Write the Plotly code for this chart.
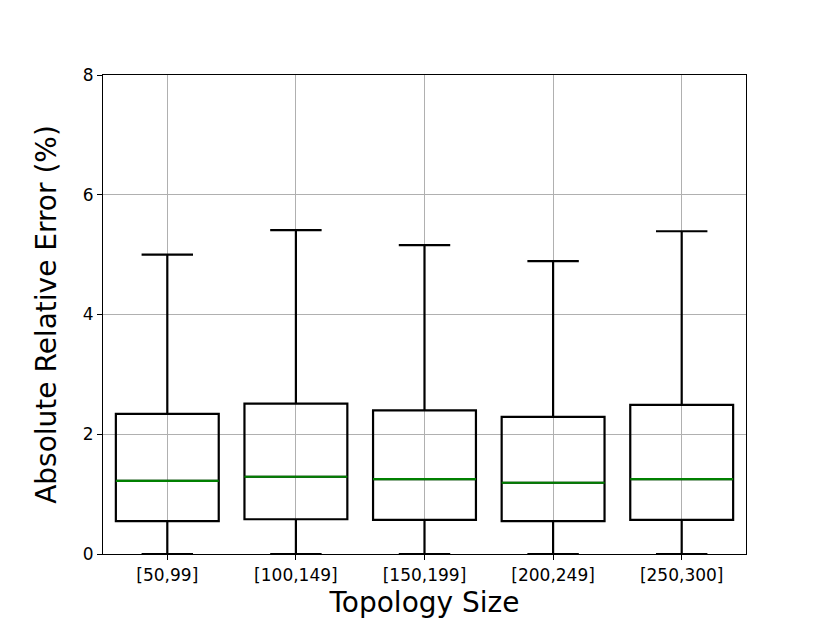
import plotly.graph_objects as go

# Box statistics (percent)
sizes = ["[50,99]", "[100,149]", "[150,199]", "[200,249]", "[250,300]"]
positions = [1, 2, 3, 4, 5]
lower = [0.0, 0.0, 0.0, 0.0, 0.0]
q1 = [0.55, 0.58, 0.57, 0.55, 0.57]
median = [1.22, 1.29, 1.25, 1.19, 1.25]
q3 = [2.34, 2.51, 2.40, 2.29, 2.49]
upper = [5.00, 5.41, 5.16, 4.89, 5.39]

box_width = 0.8
font = "DejaVu Sans"

fig = go.Figure()

fig.add_trace(go.Box(
    x=positions,
    q1=q1,
    median=median,
    q3=q3,
    lowerfence=lower,
    upperfence=upper,
    width=box_width,
    whiskerwidth=0.5,
    fillcolor="rgba(0,0,0,0)",
    line=dict(color="black", width=2.2),
    boxpoints=False,
    hoverinfo="skip",
    showlegend=False,
))

# green median lines drawn over the box medians
med_x, med_y = [], []
for p, m in zip(positions, median):
    med_x += [p - box_width / 2, p + box_width / 2, None]
    med_y += [m, m, None]
fig.add_trace(go.Scatter(
    x=med_x, y=med_y, mode="lines",
    line=dict(color="green", width=2.2),
    hoverinfo="skip", showlegend=False,
))

# page has an 8px body margin, so the figure is a little smaller than the window
fig.update_layout(
    width=822,
    height=615,
    margin=dict(l=95, r=84, t=67, b=69),
    plot_bgcolor="white",
    paper_bgcolor="white",
    font=dict(family=font, size=17, color="black"),
)

fig.update_xaxes(
    range=[0.5, 5.5],
    tickvals=positions,
    ticktext=sizes,
    showgrid=True, gridcolor="#b0b0b0", gridwidth=1,
    showline=True, linecolor="black", linewidth=1.2, mirror=True,
    ticks="outside", ticklen=5, tickcolor="black",
    zeroline=False,
    title=dict(text="Topology Size", font=dict(family=font, size=28), standoff=8),
)
fig.update_yaxes(
    range=[0, 8],
    tickvals=[0, 2, 4, 6, 8],
    showgrid=True, gridcolor="#b0b0b0", gridwidth=1,
    showline=True, linecolor="black", linewidth=1.2, mirror=True,
    ticks="outside", ticklen=5, tickcolor="black",
    zeroline=False,
    title=dict(text="Absolute Relative Error (%)", font=dict(family=font, size=28), standoff=17),
)

fig.write_html("out.html")
